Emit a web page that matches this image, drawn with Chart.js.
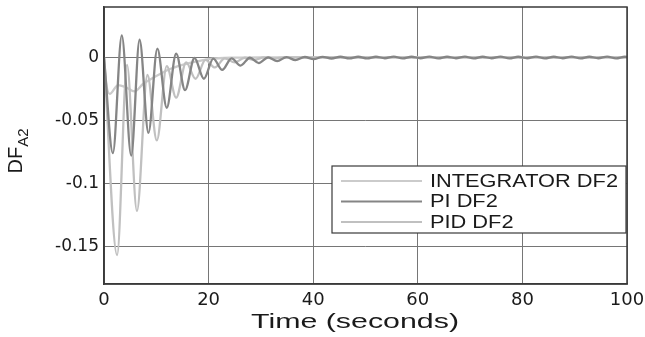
<!DOCTYPE html>
<html>
<head>
<meta charset="utf-8">
<script src="https://cdn.jsdelivr.net/npm/chart.js@4/dist/chart.umd.min.js"></script>
<style>
  html, body { margin: 0; padding: 0; background: #ffffff; }
  #c { display: block; }
</style>
</head>
<body>
<canvas id="c" width="645" height="337"></canvas>
<script>
// ---- Data ----
const seriesLabels = ["INTEGRATOR DF2", "PI DF2", "PID DF2"];

const intT = [0, 0.4, 1.1, 2.7, 4.3, 5.8, 7.5, 9.5, 12.2, 15, 18, 20.3, 25, 30, 100];
const intV = [0, -0.020, -0.029, -0.022, -0.024, -0.027, -0.021, -0.016, -0.010, -0.006, -0.003, -0.0012, -0.0002, 0, 0];

const piT = [0, 1.7, 3.4, 5.2, 6.8, 8.5, 10.2, 12.0, 13.8, 15.5, 17.3, 19.1, 20.9, 22.6, 24.4, 26.1, 27.9, 29.6,
  31.4, 33.1, 34.9, 36.6, 38.4, 40.1, 41.8, 43.5, 45.2, 46.9, 48.6, 50.3, 52.0, 53.7, 55.4, 57.1, 58.8, 60.5,
  62.2, 63.9, 65.6, 67.3, 69.0, 70.7, 72.4, 74.1, 75.8, 77.5, 79.2, 80.9, 82.6, 84.3, 86.0, 87.7, 89.4, 91.1,
  92.8, 94.5, 96.2, 97.9, 99.6, 100];
const piV = [0, -0.076, 0.0175, -0.078, 0.014, -0.060, 0.007, -0.040, 0.003, -0.026, -0.0005, -0.017, -0.001, -0.010,
  -0.0008, -0.0065, -0.0003, -0.0045, 0, -0.003, 0.0002, -0.0022, 0.0003, -0.0014, 0.0004, -0.0009, 0.0005, -0.0008,
  0.0005, -0.0008, 0.0005, -0.0007, 0.0006, -0.0008, 0.0005, -0.0007, 0.0006, -0.0008, 0.0005, -0.0007, 0.0006,
  -0.0008, 0.0005, -0.0007, 0.0006, -0.0008, 0.0005, -0.0007, 0.0006, -0.0008, 0.0005, -0.0007, 0.0006, -0.0008,
  0.0005, -0.0007, 0.0006, -0.0008, 0.0005, 0.0003];

const pidT = [0, 2.5, 4.4, 6.3, 8.3, 10.1, 12.0, 13.8, 15.7, 17.5, 19.4, 21.2, 23.1, 25.0, 26.9, 28.7, 30.6, 32.5, 34.4, 40, 100];
const pidV = [0, -0.157, -0.006, -0.122, -0.014, -0.066, -0.007, -0.032, -0.004, -0.017, -0.002, -0.008, -0.0008,
  -0.004, -0.0003, -0.002, 0, -0.001, 0, 0, 0];

const xTicks = [0, 20, 40, 60, 80, 100];
const yTicks = [-0.15, -0.1, -0.05, 0];
const xLabel = "Time (seconds)";
const yLabelMain = "DF";
const yLabelSub = "A2";

// ---- Build chart ----
const zip = (t, v) => t.map((x, i) => ({ x: x, y: v[i] }));
const colors = ["#cbcbcb", "#858585", "#c0c0c0"];
const FONT = "'Liberation Sans', Arial, sans-serif";
const TICKFONT = "'DejaVu Sans', sans-serif";
const TEXT = "#1a1a1a";

// draw text horizontally stretched so that it spans a target width
function stretchedText(ctx, str, cx, cy, font, targetW, align) {
  ctx.save();
  ctx.font = font;
  const w = ctx.measureText(str).width;
  const sx = targetW / w;
  ctx.translate(cx, cy);
  ctx.scale(sx, 1);
  ctx.textAlign = align || "center";
  ctx.textBaseline = "middle";
  ctx.fillStyle = TEXT;
  ctx.fillText(str, 0, 0);
  ctx.restore();
}

const titlesPlugin = {
  id: 'titles',
  afterDraw(chart) {
    const ctx = chart.ctx;
    // x title
    stretchedText(ctx, xLabel, 355, 322, "21px " + FONT, 208, "center");
    // y title with subscript
    ctx.save();
    ctx.translate(22, 150);
    ctx.rotate(-Math.PI / 2);
    ctx.fillStyle = TEXT;
    ctx.textBaseline = "alphabetic";
    ctx.textAlign = "left";
    ctx.font = "20px " + FONT;
    const w1 = ctx.measureText(yLabelMain).width;
    ctx.font = "15px " + FONT;
    const w2 = ctx.measureText(yLabelSub).width;
    const start = -(w1 + w2) / 2 - 1;
    ctx.font = "20px " + FONT;
    ctx.fillText(yLabelMain, start, 0);
    ctx.font = "15px " + FONT;
    ctx.fillText(yLabelSub, start + w1, 6);
    ctx.restore();
  }
};

const framePlugin = {
  id: 'frame',
  afterDatasetsDraw(chart) {
    const ctx = chart.ctx;
    const a = chart.chartArea;
    ctx.save();
    ctx.strokeStyle = "#3a3a3a";
    ctx.lineWidth = 1.5;
    ctx.strokeRect(a.left, a.top, a.right - a.left, a.bottom - a.top);
    ctx.restore();
  }
};

const legendPlugin = {
  id: 'boxLegend',
  afterDraw(chart) {
    const ctx = chart.ctx;
    const a = chart.chartArea;
    const bx = 332, by = 166, bw = a.right - 1 - 332, bh = 67;
    ctx.save();
    ctx.fillStyle = "#ffffff";
    ctx.fillRect(bx, by, bw, bh);
    ctx.strokeStyle = "#3a3a3a";
    ctx.lineWidth = 1.2;
    ctx.strokeRect(bx, by, bw, bh);
    const rows = [181, 201.5, 222];
    ctx.font = "18px " + FONT;
    const refW = ctx.measureText(seriesLabels[0]).width;
    const sx = 188 / refW;
    chart.data.datasets.forEach((ds, i) => {
      ctx.strokeStyle = ds.borderColor;
      ctx.lineWidth = 2;
      ctx.beginPath();
      ctx.moveTo(341, rows[i]);
      ctx.lineTo(422, rows[i]);
      ctx.stroke();
      ctx.font = "18px " + FONT;
      const w = ctx.measureText(ds.label).width;
      stretchedText(ctx, ds.label, 430, rows[i] + 1, "18px " + FONT, w * sx, "left");
    });
    ctx.restore();
  }
};

new Chart(document.getElementById('c'), {
  type: 'line',
  data: {
    datasets: [
      { label: seriesLabels[0], data: zip(intT, intV), borderColor: colors[0], order: 2 },
      { label: seriesLabels[1], data: zip(piT, piV), borderColor: colors[1], order: 0 },
      { label: seriesLabels[2], data: zip(pidT, pidV), borderColor: colors[2], order: 1 }
    ]
  },
  options: {
    responsive: false,
    animation: false,
    devicePixelRatio: 1,
    layout: { padding: { top: 7, right: 18, left: 0, bottom: 0 } },
    elements: {
      point: { radius: 0 },
      line: { borderWidth: 2.3, cubicInterpolationMode: 'monotone', fill: false }
    },
    plugins: { legend: { display: false }, tooltip: { enabled: false } },
    scales: {
      x: {
        type: 'linear', min: 0, max: 100,
        afterBuildTicks: s => { s.ticks = xTicks.map(v => ({ value: v })); },
        afterFit: s => { s.height = 53; s.paddingLeft = 0; s.paddingRight = 0; },
        grid: { color: "#767676", lineWidth: 1, drawTicks: false },
        border: { color: "#3a3a3a", width: 1.5 },
        ticks: { color: TEXT, font: { family: TICKFONT, size: 18 }, padding: 6, maxRotation: 0 }
      },
      y: {
        type: 'linear', min: -0.18, max: 0.04,
        afterBuildTicks: s => { s.ticks = yTicks.map(v => ({ value: v })); },
        afterFit: s => { s.width = 104; s.paddingTop = 0; s.paddingBottom = 0; },
        grid: { color: "#767676", lineWidth: 1, drawTicks: false },
        border: { color: "#3a3a3a", width: 1.5 },
        ticks: { color: TEXT, font: { family: TICKFONT, size: 17 }, padding: 5,
          callback: v => String(v) }
      }
    }
  },
  plugins: [titlesPlugin, framePlugin, legendPlugin]
});
</script>
</body>
</html>
